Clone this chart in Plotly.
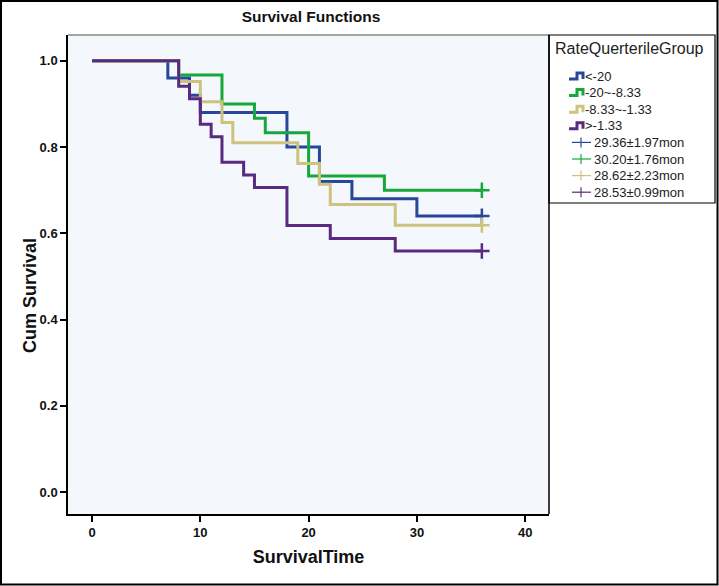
import plotly.graph_objects as go

# ---- data ----
groups = ["<-20", "-20~-8.33", "-8.33~-1.33", ">-1.33"]
mean_labels = ["29.36±1.97mon", "30.20±1.76mon", "28.62±2.23mon", "28.53±0.99mon"]

t_lt20 = [0, 7, 9, 10, 18, 21, 24, 30, 36]
s_lt20 = [1.0, 0.96, 0.92, 0.88, 0.80, 0.72, 0.68, 0.64, 0.64]

t_20_833 = [0, 8, 12, 15, 16, 20, 27, 36]
s_20_833 = [1.0, 0.967, 0.90, 0.867, 0.833, 0.733, 0.70, 0.70]

t_833_133 = [0, 8, 10, 12, 13, 19, 21, 22, 28, 36]
s_833_133 = [1.0, 0.952, 0.905, 0.857, 0.810, 0.762, 0.714, 0.667, 0.619, 0.619]

t_gt133 = [0, 8, 9, 10, 11, 12, 14, 15, 18, 22, 28, 36]
s_gt133 = [1.0, 0.941, 0.912, 0.853, 0.824, 0.765, 0.735, 0.706, 0.618, 0.588, 0.559, 0.559]

censor_time = [36, 36, 36, 36]

x_ticks = [0, 10, 20, 30, 40]
y_ticks = [0.0, 0.2, 0.4, 0.6, 0.8, 1.0]

colors = ["#27479b", "#17a83c", "#cdc27e", "#5a2a80"]

series = [(t_lt20, s_lt20), (t_20_833, s_20_833), (t_833_133, s_833_133), (t_gt133, s_gt133)]

# ---- geometry ----
W, H = 719, 586
L, R, T, B = 68, 170, 35, 72
PW, PH = W - L - R, H - T - B
FONT = "Liberation Sans, Arial"


def px(x):
    return (x - L) / PW


def py(y):
    return (H - B - y) / PH


fig = go.Figure()
for (t, s), c, g in zip(series, colors, groups):
    fig.add_trace(go.Scatter(x=t, y=s, mode="lines", line=dict(color=c, width=3, shape="hv"),
                             name=g, showlegend=False))
for (t, s), c, ct, ml in zip(series, colors, censor_time, mean_labels):
    fig.add_trace(go.Scatter(x=[ct], y=[s[-1]], mode="markers",
                             marker=dict(symbol="cross-thin", size=11, line=dict(color=c, width=2.5)),
                             name=ml, showlegend=False))

shapes = []
annotations = []
# outer frame
shapes.append(dict(type="rect", xref="paper", yref="paper", x0=px(1), x1=px(W - 1.5), y0=py(H - 1.5), y1=py(1),
                   line=dict(color="black", width=2), fillcolor="rgba(0,0,0,0)", layer="above"))
# top border of plot area (gray)
shapes.append(dict(type="line", xref="paper", yref="paper", x0=0, x1=1, y0=1, y1=1,
                   line=dict(color="#888888", width=1.5)))
# legend box
shapes.append(dict(type="rect", xref="paper", yref="paper", x0=px(549), x1=px(715), y0=py(203), y1=py(35),
                   line=dict(color="black", width=1.2), fillcolor="rgba(0,0,0,0)"))

annotations.append(dict(text="RateQuerterileGroup", xref="paper", yref="paper", x=px(553), y=py(48),
                        xanchor="left", yanchor="middle", showarrow=False,
                        font=dict(family=FONT, size=16, color="#222")))
row_y = [76 + 16.6 * i for i in range(8)]
for i, (g, c) in enumerate(zip(groups, colors)):
    yc = row_y[i]
    x0, x1, x2 = 569, 577, 583
    yb, yt = yc + 3, yc - 3
    path = "M {},{} L {},{} L {},{} L {},{} L {},{}".format(
        px(x0), py(yb), px(x1), py(yb), px(x1), py(yt), px(x2), py(yt), px(x2), py(yb))
    shapes.append(dict(type="path", xref="paper", yref="paper", path=path, line=dict(color=c, width=3)))
    annotations.append(dict(text=g, xref="paper", yref="paper", x=px(583), y=py(yc), xanchor="left",
                            yanchor="middle", showarrow=False,
                            font=dict(family=FONT, size=13, color="#222")))
for i, (m, c) in enumerate(zip(mean_labels, colors)):
    yc = row_y[4 + i]
    shapes.append(dict(type="line", xref="paper", yref="paper", x0=px(572), x1=px(591), y0=py(yc), y1=py(yc),
                       line=dict(color=c, width=1.2)))
    shapes.append(dict(type="line", xref="paper", yref="paper", x0=px(581), x1=px(581), y0=py(yc - 5), y1=py(yc + 5),
                       line=dict(color=c, width=1.2)))
    annotations.append(dict(text=m, xref="paper", yref="paper", x=px(592), y=py(yc), xanchor="left",
                            yanchor="middle", showarrow=False,
                            font=dict(family=FONT, size=13, color="#222")))

# y-axis title (placed as in the reference, slightly below centre)
annotations.append(dict(text="<b>Cum Survival</b>", xref="paper", yref="paper", x=px(30), y=py(296),
                        xanchor="center", yanchor="middle", textangle=-90, showarrow=False,
                        font=dict(family=FONT, size=18, color="#111")))

fig.update_layout(
    width=W, height=H,
    margin=dict(l=L, r=R, t=T, b=B, autoexpand=False),
    paper_bgcolor="white",
    plot_bgcolor="#f4f7fb",
    title=dict(text="<b>Survival Functions</b>", x=px(311), xref="paper", xanchor="center",
               y=1 - 17 / H, yanchor="middle",
               font=dict(family=FONT, size=15.5, color="#111")),
    xaxis=dict(range=[-2.22, 42.2], tickvals=x_ticks, ticktext=["<b>%d</b>" % v for v in x_ticks],
               showgrid=False, zeroline=False, showline=True, linecolor="black", linewidth=1.5,
               mirror=False, ticks="outside", ticklen=6, tickwidth=1.5, tickcolor="black",
               tickfont=dict(family=FONT, size=13, color="#111"),
               title=dict(text="<b>SurvivalTime</b>", standoff=11,
                          font=dict(family=FONT, size=18, color="#111"))),
    yaxis=dict(range=[-0.051, 1.06], tickvals=y_ticks, ticktext=["<b>%.1f</b>" % v for v in y_ticks],
               showgrid=False, zeroline=False, showline=True, linecolor="black", linewidth=1.5,
               ticks="outside", ticklen=6, tickwidth=1.5, tickcolor="black",
               tickfont=dict(family=FONT, size=13, color="#111")),
    shapes=shapes,
    annotations=annotations,
    showlegend=False,
)
# right border of plot area
fig.add_shape(type="line", xref="paper", yref="paper", x0=1, x1=1, y0=0, y1=1,
              line=dict(color="black", width=1.5))

fig.write_html("out.html", config={"displayModeBar": False},
               post_script="document.body.style.margin='0';document.body.style.overflow='hidden';")
